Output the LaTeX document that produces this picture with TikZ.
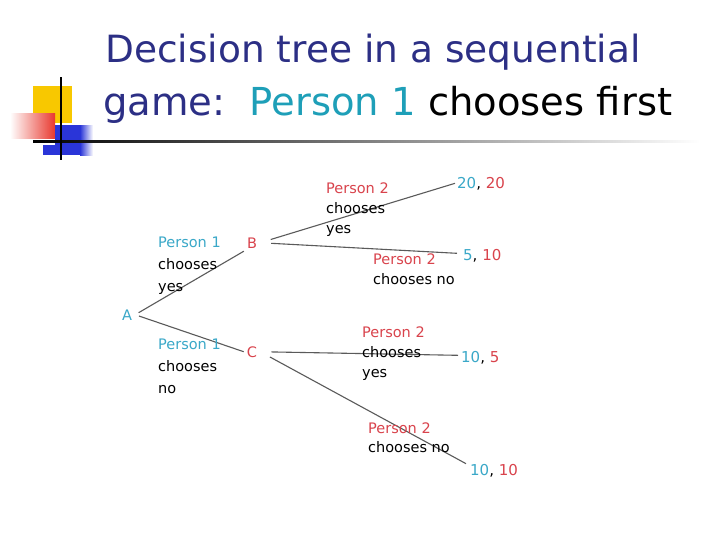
\documentclass[tikz,border=0pt]{standalone}
\usepackage{fontspec}
\setmainfont{DejaVu Sans}
\definecolor{navy}{HTML}{2C2F85}
\definecolor{tealT}{HTML}{1E9FB8}
\definecolor{tealL}{HTML}{3AA8C8}
\definecolor{redL}{HTML}{D9434C}
\definecolor{edgeC}{HTML}{5A5A5A}
\definecolor{yel}{HTML}{F8C800}
\definecolor{redq}{HTML}{E8382E}
\definecolor{bluq}{HTML}{2A35D8}
\tikzset{
  lbl/.style={font=\fontsize{14.5}{21}\selectfont, align=left, anchor=base west, inner sep=0pt},
  ttl/.style={font=\fontsize{37.5}{53}\selectfont, anchor=base west, inner sep=0pt},
  vtx/.style={font=\fontsize{14.5}{17}\selectfont, inner sep=3pt},
  leaf/.style={font=\fontsize{15}{17}\selectfont, anchor=base west, inner sep=0pt},
  edge/.style={draw=edgeC, line width=1.1pt}
}
\begin{document}
\begin{tikzpicture}[x=1pt,y=-1pt]
\useasboundingbox (0,0) rectangle (720,539);
\fill[white] (0,0) rectangle (720,539);
% logo
\fill[yel] (33,86) rectangle (72,123);
\shade[left color=white, right color=redq] (10,113) rectangle (55,138);
\fill[bluq] (55,125) rectangle (80,155);
\shade[left color=bluq, right color=white] (80,125) rectangle (93,155);
\fill[bluq] (43,145) rectangle (60,155);
\shade[left color=black, right color=white] (33,140) rectangle (700,142.2);
\fill[black] (60,77) rectangle (62,160);
% title
\node[ttl, text=navy] (t1) at (105,62) {Decision tree in a sequential};
\node[ttl, font=\fontsize{38.5}{53}\selectfont] (t2) at (103,115) {\textcolor{navy}{game:}\ \ \textcolor{tealT}{Person 1} chooses first};
% vertices
\node[vtx, text=tealL, anchor=base] (A) at (127,320) {A};
\node[vtx, text=redL, anchor=base] (B) at (252,248) {B};
\node[vtx, text=redL, anchor=base] (C) at (252,357) {C};
% leaves
\node[leaf] (l1) at (457,188) {\textcolor{tealL}{20}, \textcolor{redL}{20}};
\node[leaf] (l2) at (463,260) {\textcolor{tealL}{5}, \textcolor{redL}{10}};
\node[leaf] (l3) at (461,362) {\textcolor{tealL}{10}, \textcolor{redL}{5}};
\node[leaf] (l4) at (470,475) {\textcolor{tealL}{10}, \textcolor{redL}{10}};
% edges
\draw[edge, shorten <=4pt] (A.east) -- (B.south west);
\draw[edge, shorten <=4pt] (A.east) -- (C.west);
\draw[edge, shorten <=11pt] (B.east) -- ([xshift=-2pt]l1.west);
\draw[edge, shorten <=11pt] (B.east) -- ([xshift=-6pt,yshift=2pt]l2.west);
\draw[edge, shorten <=11pt] (C.east) -- ([xshift=-3pt,yshift=2pt]l3.west);
\draw[edge, shorten <=11pt] (C.east) -- ([xshift=-4pt]l4.north west);
% edge labels (base anchor = last line's baseline)
\node[lbl] (p1y) at (158,291) {\textcolor{tealL}{Person 1}\\[1pt]chooses\\[1pt]yes};
\node[lbl] (p1n) at (158,393) {\textcolor{tealL}{Person 1}\\[1pt]chooses\\[1pt]no};
\node[lbl] (p2by) at (326,233) {\textcolor{redL}{Person 2}\\[-1pt]chooses\\[-1pt]yes};
\node[lbl] (p2bn) at (373,284) {\textcolor{redL}{Person 2}\\[-1pt]chooses no};
\node[lbl] (p2cy) at (362,377) {\textcolor{redL}{Person 2}\\[-1pt]chooses\\[-1pt]yes};
\node[lbl] (p2cn) at (368,452) {\textcolor{redL}{Person 2}\\[-2pt]chooses no};
\end{tikzpicture}
\end{document}
